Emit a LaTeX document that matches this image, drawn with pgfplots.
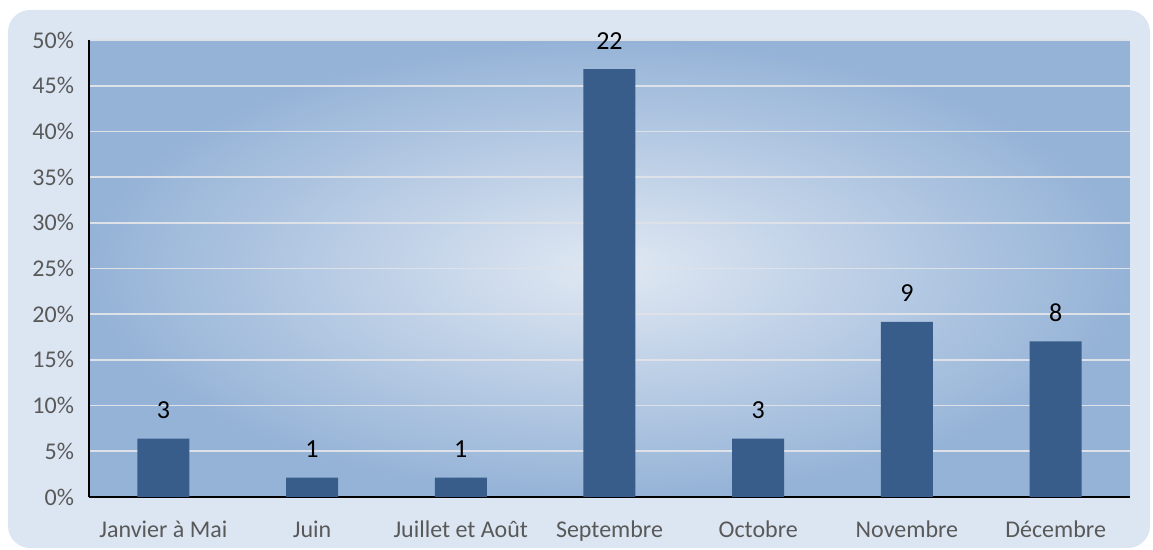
\documentclass[border=0pt]{standalone}
\usepackage{fontspec}
\setmainfont{Carlito}
\usepackage{pgfplots}
\pgfplotsset{compat=1.18}

\definecolor{barblue}{RGB}{56,93,139}
\definecolor{frame}{RGB}{220,230,242}
\definecolor{edgeblue}{RGB}{149,179,215}
\definecolor{centre}{RGB}{224,232,243}
\definecolor{ticktext}{RGB}{89,89,89}
\definecolor{gridcol}{RGB}{222,226,232}

\begin{document}
\begin{tikzpicture}
\useasboundingbox (-44.5pt,-26.5pt) rectangle (532pt,248.5pt);
\fill[frame, rounded corners=11pt] (-40.5pt,-25.5pt) rectangle (530.5pt,243.5pt);
\begin{axis}[
    at={(0,0)}, anchor=south west,
    scale only axis,
    width=520.5pt, height=228.5pt,
    ybar, bar width=26pt,
    xmin=-0.5, xmax=6.5,
    ymin=0, ymax=50,
    xtick={0,...,6},
    xticklabels={Janvier à Mai, Juin, Juillet et Août, Septembre, Octobre, Novembre, Décembre},
    ytick={0,5,...,50},
    yticklabels={0\%,5\%,10\%,15\%,20\%,25\%,30\%,35\%,40\%,45\%,50\%},
    tick style={draw=none},
    axis x line*=bottom, axis y line*=left,
    axis line style={black, line width=0.9pt, -},
    ymajorgrids, grid style={draw=gridcol, line width=0.9pt},
    axis background/.style={shade, inner color=centre, outer color=edgeblue},
    ticklabel style={font=\fontsize{12}{14}\selectfont, text=ticktext},
    xticklabel style={yshift=-4pt},
    yticklabel style={xshift=-4pt},
    point meta=explicit symbolic,
    nodes near coords,
    nodes near coords style={font=\fontsize{13}{15}\selectfont, text=black, yshift=6.5pt},
]
\addplot[fill=barblue, draw=none] coordinates {
    (0,6.383)  [3]
    (1,2.128)  [1]
    (2,2.128)  [1]
    (3,46.809) [22]
    (4,6.383)  [3]
    (5,19.149) [9]
    (6,17.021) [8]
};
\end{axis}
\end{tikzpicture}
\end{document}
